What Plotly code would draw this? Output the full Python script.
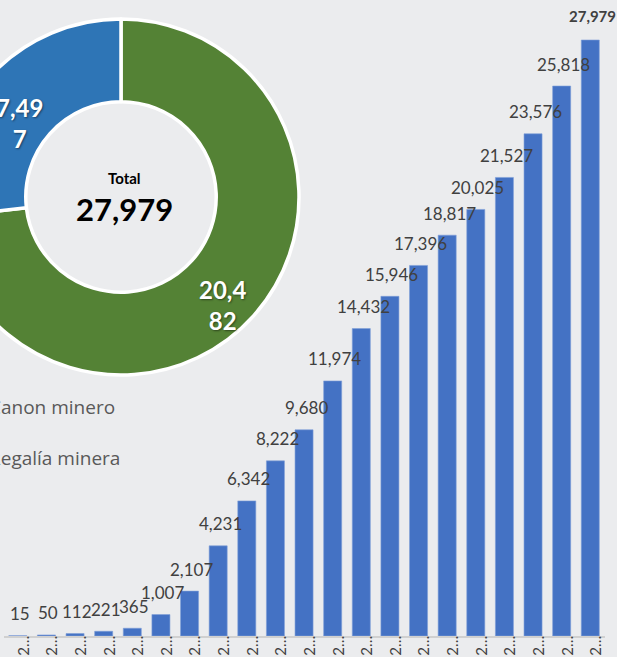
import math
import plotly.graph_objects as go

# ---------------- data ----------------
years = [str(y) for y in range(2004, 2025)]
tick_labels = ["2…"] * len(years)
cumulative = [15, 50, 112, 221, 365, 1007, 2107, 4231, 6342, 8222, 9680,
              11974, 14432, 15946, 17396, 18817, 20025, 21527, 23576, 25818, 27979]

donut_labels = ["Canon minero", "Regalía minera"]
donut_values = [20482, 7497]
donut_colors = ["#548235", "#2E75B6"]

# ---------------- layout constants ----------------
SHIFT = 60              # figure is shifted left so the donut is cut like the reference
W, H = 617 + SHIFT, 657
MB = 21
PH = H - MB
BG = "#EBECEE"
CX, CY, R = SHIFT + 121, 197, 178   # donut centre / radius in figure pixels
R_LABEL = 136

fig = go.Figure()

fig.add_trace(go.Bar(
    x=years, y=cumulative,
    marker=dict(color="#4472C4", line=dict(color="#7F9FD8", width=0.6)),
    width=0.63, showlegend=False, hoverinfo="x+y",
))

fig.add_trace(go.Pie(
    labels=donut_labels, values=donut_values,
    textinfo="none",
    marker=dict(colors=donut_colors, line=dict(color="white", width=3.5)),
    hole=0.535, sort=False, direction="clockwise", rotation=0,
    domain=dict(x=[(CX - R) / W, (CX + R) / W], y=[(PH - CY - R) / PH, (PH - CY + R) / PH]),
    showlegend=False,
))

annotations = []
n = len(cumulative)
for i, v in enumerate(cumulative):
    bold = i == n - 1
    annotations.append(dict(
        x=i, y=v, xref="x", yref="y", xshift=2,
        text=(f"<b>{v:,}</b>" if bold else f"{v:,}"),
        showarrow=False, yanchor="middle", xanchor="center",
        yshift=22 if not bold else 24,
        font=dict(family="Lato", size=(15 if bold else 17), color="#404040"),
    ))

# donut slice labels at the slice mid-angle (clockwise from 12 o'clock)
total = sum(donut_values)
acc = 0
for v in donut_values:
    mid = (acc + v / 2) / total * 2 * math.pi
    acc += v
    px = CX + R_LABEL * math.sin(mid)
    py = CY - R_LABEL * math.cos(mid) + 17
    s = f"{v:,}"
    annotations.append(dict(
        x=px / W, y=(PH - py) / PH, xref="paper", yref="paper",
        xanchor="center", yanchor="middle", showarrow=False,
        text="<b>" + s[:4] + "<br>" + s[4:] + "</b>",
        font=dict(family="Lato", size=24, color="white",
                  shadow="1px 1px 2px rgba(0,0,0,0.45)"),
    ))

# donut centre total
annotations.append(dict(x=(CX + 3) / W, y=(PH - 178) / PH, xref="paper", yref="paper",
                        xanchor="center", yanchor="middle",
                        text="<b>Total</b>", showarrow=False,
                        font=dict(family="Lato", size=15, color="black")))
annotations.append(dict(x=(CX + 3) / W, y=(PH - 209) / PH, xref="paper", yref="paper",
                        xanchor="center", yanchor="middle",
                        text=f"<b>{total:,}</b>", showarrow=False,
                        font=dict(family="Lato", size=31, color="black")))

# legend texts (markers fall outside the visible area)
for lab, ypix in zip(donut_labels, [407, 458]):
    annotations.append(dict(x=(SHIFT - 13) / W, y=(PH - ypix) / PH, xref="paper", yref="paper",
                            xanchor="left", yanchor="middle", text=lab, showarrow=False,
                            font=dict(family="Open Sans", size=19, color="#595959")))

fig.update_layout(
    width=W, height=H,
    margin=dict(l=0, r=0, t=0, b=MB, pad=0, autoexpand=False),
    paper_bgcolor=BG, plot_bgcolor=BG,
    bargap=0.37,
    annotations=annotations,
    xaxis=dict(type="category", automargin=False,
               domain=[63.5 / W, 664.6 / W], range=[-0.5, n - 0.5],
               tickmode="array", tickvals=years, ticktext=tick_labels,
               tickangle=-90, tickfont=dict(family="Lato", size=15, color="#404040"),
               ticklabelstandoff=-8, ticklabelshift=6,
               showline=True, linecolor="#D0D0D0", linewidth=1.5,
               showgrid=False, ticks="", zeroline=False),
    yaxis=dict(range=[0, 27979 * PH / (PH - 40)], visible=False, showgrid=False,
               automargin=False),
)

fig.write_html(
    "out.html",
    config={"displayModeBar": False},
    post_script=("document.body.style.margin='0';document.body.style.overflow='hidden';"
                 "document.body.style.background='" + BG + "';"
                 "var d=document.getElementById('{plot_id}');d.style.marginLeft='-" + str(SHIFT) + "px';"),
)
